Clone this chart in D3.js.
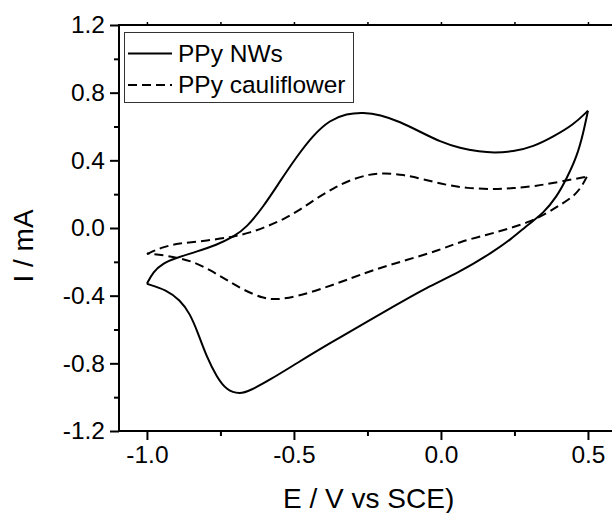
<!DOCTYPE html>
<html>
<head>
<meta charset="utf-8">
<script src="https://cdn.jsdelivr.net/npm/d3@7/dist/d3.min.js"></script>
<style>
  html, body { margin: 0; padding: 0; background: #fff; }
  text { font-family: "Liberation Sans", Arial, sans-serif; fill: #000; }
</style>
</head>
<body>
<svg id="chart" width="612" height="513"></svg>
<script>
// ---- Data ----
const seriesNames = ["PPy NWs", "PPy cauliflower"];

// PPy NWs, anodic scan (-1.0 -> 0.5)  [E (V), I (mA)]
const nwForward = [
  [-1.0,-0.33],[-0.979,-0.258],[-0.945,-0.208],[-0.905,-0.179],[-0.831,-0.140],
  [-0.763,-0.100],[-0.706,-0.053],[-0.661,0.003],[-0.604,0.126],[-0.548,0.274],
  [-0.491,0.421],[-0.434,0.550],[-0.378,0.638],[-0.321,0.676],[-0.264,0.684],
  [-0.207,0.670],[-0.139,0.628],[-0.071,0.569],[-0.003,0.510],[0.065,0.471],
  [0.133,0.451],[0.178,0.445],[0.246,0.451],[0.314,0.480],[0.382,0.540],
  [0.450,0.609],[0.50,0.693]
];
// PPy NWs, cathodic scan (0.5 -> -1.0)
const nwReverse = [
  [0.50,0.693],[0.484,0.560],[0.462,0.421],[0.428,0.294],[0.394,0.185],
  [0.348,0.087],[0.303,0.030],[0.235,-0.071],[0.178,-0.140],[0.065,-0.260],
  [-0.049,-0.352],[-0.162,-0.465],[-0.241,-0.544],[-0.378,-0.681],[-0.491,-0.800],
  [-0.582,-0.898],[-0.650,-0.962],[-0.684,-0.982],[-0.729,-0.960],[-0.763,-0.879],
  [-0.797,-0.761],[-0.826,-0.622],[-0.854,-0.504],[-0.888,-0.426],[-0.933,-0.366],
  [-1.0,-0.33]
];
// PPy cauliflower, anodic scan
const cfForward = [
  [-1.0,-0.154],[-0.945,-0.111],[-0.888,-0.090],[-0.831,-0.081],[-0.763,-0.067],
  [-0.706,-0.051],[-0.650,-0.028],[-0.593,0.008],[-0.536,0.051],[-0.480,0.106],
  [-0.423,0.176],[-0.366,0.235],[-0.310,0.284],[-0.241,0.319],[-0.196,0.324],
  [-0.128,0.316],[-0.060,0.288],[0.019,0.254],[0.087,0.235],[0.178,0.229],
  [0.246,0.235],[0.325,0.248],[0.405,0.274],[0.496,0.303]
];
// PPy cauliflower, cathodic scan
const cfReverse = [
  [0.496,0.303],[0.479,0.244],[0.450,0.185],[0.405,0.136],[0.360,0.087],
  [0.303,0.037],[0.235,-0.002],[0.155,-0.041],[0.065,-0.081],[-0.003,-0.130],
  [-0.117,-0.189],[-0.230,-0.248],[-0.321,-0.307],[-0.400,-0.356],[-0.491,-0.406],
  [-0.559,-0.424],[-0.604,-0.417],[-0.672,-0.366],[-0.729,-0.307],[-0.786,-0.248],
  [-0.843,-0.199],[-0.888,-0.179],[-0.945,-0.160],[-1.0,-0.150]
];

const xMajorTicks = [-1.0, -0.5, 0.0, 0.5];
const xMinorTicks = [-0.75, -0.25, 0.25];
const yMajorTicks = [-1.2, -0.8, -0.4, 0.0, 0.4, 0.8, 1.2];
const yMinorTicks = [-1.0, -0.6, -0.2, 0.2, 0.6, 1.0];
const xTitle = "E / V vs SCE)";
const yTitle = "I / mA";

// ---- Layout ----
const svg = d3.select("#chart");
const pLeft = 119, pRight = 620.3, pTop = 25, pBottom = 431;
const x = d3.scaleLinear().domain([-1.095, 0.61]).range([pLeft, pRight]);
const y = d3.scaleLinear().domain([-1.2, 1.2]).range([pBottom, pTop]);
const fs = 24.5;
const fmt = d => d.toFixed(1);

// curves
const line = d3.line().x(d => x(d[0])).y(d => y(d[1])).curve(d3.curveBasis);
const plot = svg.append("g");
[nwForward, nwReverse].forEach(b => plot.append("path").attr("d", line(b))
  .attr("fill", "none").attr("stroke", "#000").attr("stroke-width", 2));
[cfForward, cfReverse].forEach(b => plot.append("path").attr("d", line(b))
  .attr("fill", "none").attr("stroke", "#000").attr("stroke-width", 2)
  .attr("stroke-dasharray", "9,5"));

// frame
svg.append("rect").attr("x", pLeft).attr("y", pTop).attr("width", pRight - pLeft).attr("height", pBottom - pTop)
  .attr("fill", "none").attr("stroke", "#000").attr("stroke-width", 2);

// bottom axis
const xAxis = d3.axisBottom(x).tickValues(xMajorTicks).tickFormat(fmt)
  .tickSize(9).tickPadding(6);
const gx = svg.append("g").attr("transform", `translate(0,${pBottom})`).call(xAxis);
gx.select(".domain").remove();
gx.selectAll("line").attr("stroke-width", 2);
gx.selectAll("text").attr("font-size", fs).style("font-family", "Liberation Sans, Arial, sans-serif");
const gxm = svg.append("g").attr("transform", `translate(0,${pBottom})`)
  .call(d3.axisBottom(x).tickValues(xMinorTicks).tickSize(5).tickFormat(""));
gxm.select(".domain").remove();
gxm.selectAll("line").attr("stroke-width", 2);

// top mirror ticks
const gxt = svg.append("g").attr("transform", `translate(0,${pTop})`)
  .call(d3.axisTop(x).tickValues(xMajorTicks.concat(xMinorTicks)).tickSize(3).tickFormat(""));
gxt.select(".domain").remove();
gxt.selectAll("line").attr("stroke-width", 1.5);

// left axis
const yAxis = d3.axisLeft(y).tickValues(yMajorTicks).tickFormat(fmt)
  .tickSize(9).tickPadding(5);
const gy = svg.append("g").attr("transform", `translate(${pLeft},0)`).call(yAxis);
gy.select(".domain").remove();
gy.selectAll("line").attr("stroke-width", 2);
gy.selectAll("text").attr("font-size", fs).style("font-family", "Liberation Sans, Arial, sans-serif");
const gym = svg.append("g").attr("transform", `translate(${pLeft},0)`)
  .call(d3.axisLeft(y).tickValues(yMinorTicks).tickSize(5).tickFormat(""));
gym.select(".domain").remove();
gym.selectAll("line").attr("stroke-width", 2);

// axis titles
svg.append("text").attr("x", (pLeft + pRight) / 2 - 1).attr("y", 508)
  .attr("text-anchor", "middle").attr("font-size", 28).text(xTitle);
svg.append("text").attr("transform", "translate(33,246) rotate(-90)")
  .attr("text-anchor", "middle").attr("font-size", 28).text(yTitle);

// legend
const lg = svg.append("g");
lg.append("rect").attr("x", 124.5).attr("y", 32.5).attr("width", 229).attr("height", 70)
  .attr("fill", "#fff").attr("stroke", "#333").attr("stroke-width", 1);
const legendY = [53.5, 85];
const legendDash = [null, "9,5"];
seriesNames.forEach((name, i) => {
  lg.append("line").attr("x1", 128).attr("x2", 172).attr("y1", legendY[i]).attr("y2", legendY[i])
    .attr("stroke", "#000").attr("stroke-width", 2).attr("stroke-dasharray", legendDash[i]);
  lg.append("text").attr("x", 178).attr("y", legendY[i] + 8).attr("font-size", fs).text(name);
});
</script>
</body>
</html>
